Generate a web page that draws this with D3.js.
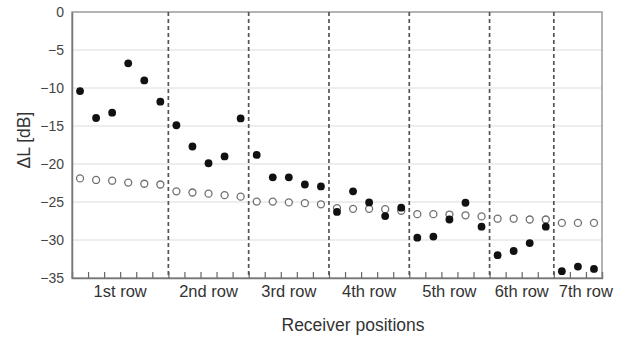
<!DOCTYPE html>
<html>
<head>
<meta charset="utf-8">
<script src="https://cdn.jsdelivr.net/npm/d3@7"></script>
<style>
  body { margin: 0; background: #fff; }
  text { font-family: Arial, "Liberation Sans", sans-serif; }
</style>
</head>
<body>
<svg id="chart" width="622" height="337"></svg>
<script>
// ---- data ----
const rowLabels = ["1st row", "2nd row", "3rd row", "4th row", "5th row", "6th row", "7th row"];
const rowSizes = [6, 5, 5, 5, 5, 4, 3];
const measured = [
  -10.4, -13.95, -13.25, -6.75, -9.0, -11.8,
  -14.9, -17.7, -19.9, -19.0, -14.0,
  -18.8, -21.75, -21.75, -22.7, -22.95,
  -26.3, -23.6, -25.05, -26.85, -25.75,
  -29.7, -29.55, -27.3, -25.1, -28.25,
  -32.0, -31.45, -30.4, -28.25,
  -34.1, -33.5, -33.8
];
const predicted = [
  -21.9, -22.1, -22.2, -22.45, -22.6, -22.7,
  -23.6, -23.75, -23.9, -24.1, -24.3,
  -24.95, -24.95, -25.05, -25.15, -25.3,
  -25.8, -25.9, -25.9, -25.95, -26.15,
  -26.6, -26.6, -26.65, -26.75, -26.9,
  -27.2, -27.2, -27.3, -27.3,
  -27.75, -27.75, -27.75
];
const yTicks = [0, -5, -10, -15, -20, -25, -30, -35];

// ---- layout ----
const svg = d3.select("#chart");
const L = 72, R = 602, T = 12, B = 278;
const n = measured.length;
const x = d3.scaleLinear().domain([0, n]).range([L, R]);
const y = d3.scaleLinear().domain([-35, 0]).range([B, T]);
const cx = i => x(i + 0.5);

// gridlines
svg.append("g").selectAll("line").data(yTicks.filter(v => v !== 0 && v !== -35)).join("line")
  .attr("x1", L).attr("x2", R).attr("y1", d => y(d)).attr("y2", d => y(d))
  .attr("stroke", "#dcdcdc").attr("stroke-width", 1);

// frame
svg.append("rect").attr("x", L).attr("y", T).attr("width", R - L).attr("height", B - T)
  .attr("fill", "none").attr("stroke", "#9a9a9a").attr("stroke-width", 1.5);

// y axis
const yAxis = d3.axisLeft(y).tickValues(yTicks).tickSize(0).tickPadding(8).tickFormat(d3.format("d"));
const yg = svg.append("g").attr("transform", `translate(${L},0)`).call(yAxis);
yg.select(".domain").attr("stroke", "#777").attr("stroke-width", 1.5);
yg.selectAll("text").attr("font-size", 14).attr("fill", "#444")
  .attr("font-family", "Arial, 'Liberation Sans', sans-serif");

// x axis ticks (inside, upward) at boundaries
const xAxis = d3.axisBottom(x).tickValues(d3.range(1, n)).tickSize(-6).tickFormat("");
const xg = svg.append("g").attr("transform", `translate(0,${B})`).call(xAxis);
xg.select(".domain").attr("stroke", "#777").attr("stroke-width", 1.5);
xg.selectAll(".tick line").attr("stroke", "#666").attr("stroke-width", 1.2);

// row dividers
const bounds = d3.cumsum(rowSizes);
svg.append("g").selectAll("line").data(bounds.slice(0, -1)).join("line")
  .attr("x1", d => x(d)).attr("x2", d => x(d)).attr("y1", T).attr("y2", B)
  .attr("stroke", "#555").attr("stroke-width", 1.7).attr("stroke-dasharray", "4,3");

// row labels
const starts = [0, ...bounds.slice(0, -1)];
svg.append("g").selectAll("text").data(rowLabels).join("text")
  .attr("x", (d, i) => (x(starts[i]) + x(bounds[i])) / 2 + (i === rowLabels.length - 1 ? 8 : 0))
  .attr("y", 297).attr("text-anchor", "middle")
  .attr("font-size", 16.5).attr("fill", "#333").text(d => d);

// axis titles
svg.append("text").attr("x", 353).attr("y", 331).attr("text-anchor", "middle")
  .attr("font-size", 17.5).attr("fill", "#333").text("Receiver positions");
svg.append("text").attr("transform", "translate(30,140) rotate(-90)").attr("text-anchor", "middle")
  .attr("font-size", 17.5).attr("fill", "#333").text("ΔL [dB]");

// predicted (open)
svg.append("g").selectAll("circle").data(predicted).join("circle")
  .attr("cx", (d, i) => cx(i)).attr("cy", d => y(d)).attr("r", 3.5)
  .attr("fill", "#fff").attr("stroke", "#707070").attr("stroke-width", 1.3);

// measured (filled)
svg.append("g").selectAll("circle").data(measured).join("circle")
  .attr("cx", (d, i) => cx(i)).attr("cy", d => y(d)).attr("r", 3.9)
  .attr("fill", "#111");
</script>
</body>
</html>
